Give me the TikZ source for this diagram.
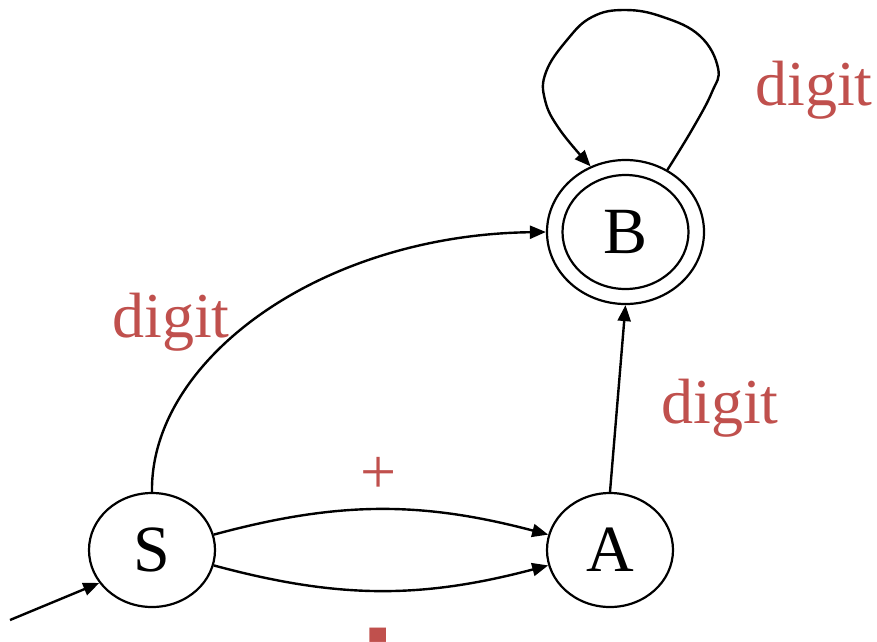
\documentclass[tikz,border=0pt]{standalone}
\usepackage{fontspec}
\setmainfont{Liberation Serif}
\usetikzlibrary{shapes.geometric,arrows.meta}
\definecolor{lblred}{HTML}{C0504D}
\begin{document}
\begin{tikzpicture}[x=1pt,y=-1pt,
  state/.style={ellipse,draw,line width=2.2pt,minimum width=126pt,minimum height=114pt,
    inner sep=0pt,font=\fontsize{66}{66}\selectfont},
  accept/.style={ellipse,draw,line width=2.2pt,minimum width=157pt,minimum height=144pt,inner sep=0pt},
  trans/.style={line width=2.4pt,-{Triangle[length=16pt,width=13pt]}},
  lbl/.style={text=lblred,font=\fontsize{64}{64}\selectfont,anchor=base,inner sep=0pt}]
\useasboundingbox (0,0) rectangle (877,641);
\clip (0,0) rectangle (877,641);

% states
\node[state] (S) at (152,550) {S};
\node[state] (A) at (610,550) {A};
\node[accept] (B) at (625.5,232) {};
\node[state] (Bin) at (625.5,232) {B};

% start arrow
\coordinate (init) at (10,620);
\draw[trans] (init) -- (S.212);

% transitions
\draw[trans] (S.north) .. controls (150,360) and (320,235) .. (B.west);
\draw[trans] (S.14) .. controls (338,501) and (421,501) .. (A.166);
\draw[trans] (S.-14) .. controls (338,599) and (421,599) .. (A.194);
\draw[trans] (A.north) -- (B.south);
\draw[trans] plot[smooth,tension=0.7] coordinates {(B.56) (693,128) (712,92)
  (718,68) (700,36) (663,17) (625,10) (592,17) (567,40) (546,72) (545,100)
  (560,130) (B.118)};

% labels
\node[lbl] (l1) at (814,105) {digit};
\node[lbl] (l2) at (171,337) {digit};
\node[lbl] (l3) at (720,423) {digit};
\node[lbl] (l4) at (379,493) {+};
\node[lbl] (l5) at (378,680) {\scalebox{1}[3]{-}};
\end{tikzpicture}
\end{document}
